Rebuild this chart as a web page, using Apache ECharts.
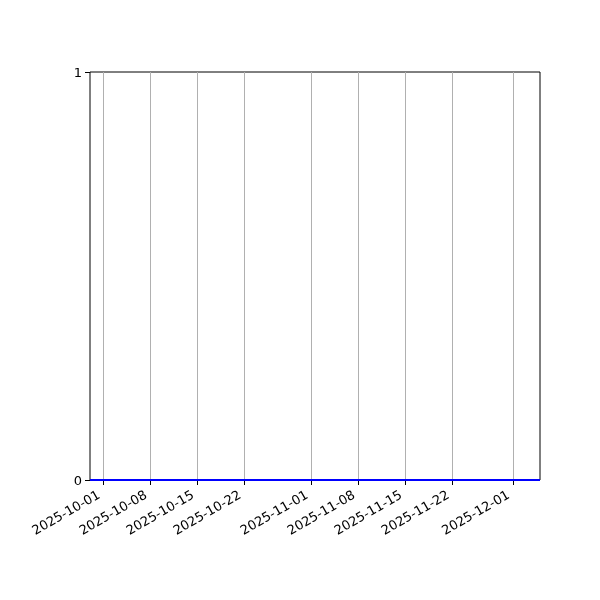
<!DOCTYPE html>
<html>
<head>
<meta charset="utf-8">
<script src="https://cdn.jsdelivr.net/npm/echarts@6/dist/echarts.min.js"></script>
<style>html,body{margin:0;padding:0;background:#fff}#c{width:600px;height:600px}</style>
</head>
<body>
<div id="c"></div>
<script>
const xRange = ['2025-09-29', '2025-12-05'];
const tickDates = ['2025-10-01','2025-10-08','2025-10-15','2025-10-22','2025-11-01','2025-11-08','2025-11-15','2025-11-22','2025-12-01'];
const lineDates = ['2025-09-29', '2025-12-05'];
const lineValues = [0, 0];
const yTicks = [0, 1];

const ts = d => new Date(d + 'T00:00:00Z').getTime();
const pad = n => String(n).padStart(2, '0');
const fmt = v => { const d = new Date(v); return d.getUTCFullYear() + '-' + pad(d.getUTCMonth() + 1) + '-' + pad(d.getUTCDate()); };
const tickTs = tickDates.map(ts);
const font = 'DejaVu Sans';

const chart = echarts.init(document.getElementById('c'), null, {renderer: 'canvas'});
chart.setOption({
  animation: false,
  backgroundColor: '#fff',
  grid: {left: 90, right: 60, top: 72, bottom: 120, show: true, borderColor: '#000', borderWidth: 1, backgroundColor: 'transparent'},
  xAxis: {
    type: 'value',
    min: ts(xRange[0]), max: ts(xRange[1]),
    axisLine: {show: false},
    axisTick: {show: true, length: 5, lineStyle: {color: '#000'}, customValues: tickTs},
    axisLabel: {customValues: tickTs, formatter: v => fmt(v), rotate: 30, color: '#000', fontFamily: font, fontSize: 13, margin: 12, padding: [0, 5, 0, 0]},
    splitLine: {show: false}
  },
  yAxis: {
    type: 'value', min: yTicks[0], max: yTicks[1], interval: 1,
    axisLine: {show: false},
    axisTick: {show: true, length: 5, lineStyle: {color: '#000'}},
    axisLabel: {color: '#000', fontFamily: font, fontSize: 13, margin: 8,
      formatter: v => '{a|' + v + '}',
      rich: {a: {color: '#000', fontFamily: font, fontSize: 13, padding: [4, 0, 0, 0]}}},
    splitLine: {show: false}
  },
  series: [{
    type: 'line', z: 10, symbol: 'none',
    data: lineDates.map((d, i) => [ts(d), lineValues[i]]),
    lineStyle: {color: '#0000ff', width: 2},
    markLine: {
      silent: true, symbol: 'none', z: 1,
      label: {show: false},
      lineStyle: {color: '#b0b0b0', width: 1, type: 'solid'},
      data: tickTs.map(t => ({xAxis: t}))
    }
  }]
});
</script>
</body>
</html>
